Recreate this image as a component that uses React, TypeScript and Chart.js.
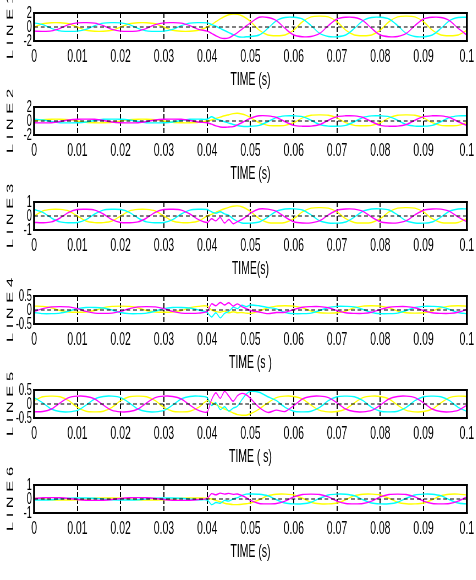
import React, { useEffect, useRef } from "react";
import { Chart, registerables } from "chart.js";
Chart.register(...registerables);

// ---- data (time in seconds, per-unit values) ----
const timeS = [0, 0.002, 0.004, 0.006, 0.008, 0.01, 0.012, 0.014, 0.016, 0.018, 0.02, 0.022, 0.024, 0.026, 0.028, 0.03, 0.032, 0.034, 0.036, 0.038, 0.04, 0.041, 0.042, 0.043, 0.044, 0.045, 0.046, 0.047, 0.048, 0.049, 0.05, 0.052, 0.054, 0.056, 0.058, 0.06, 0.062, 0.064, 0.066, 0.068, 0.07, 0.072, 0.074, 0.076, 0.078, 0.08, 0.082, 0.084, 0.086, 0.088, 0.09, 0.092, 0.094, 0.096, 0.098, 0.1];

const line1Yellow = [0, 0.47, 0.61, 0.61, 0.47, 0, -0.47, -0.61, -0.61, -0.47, 0, 0.47, 0.61, 0.61, 0.47, 0, -0.47, -0.61, -0.61, -0.47, 0, 0.35, 0.75, 1.15, 1.5, 1.75, 1.85, 1.8, 1.6, 1.25, 0.8, -0.45, -1.14, -1.25, -1.14, -0.45, 0.75, 1.44, 1.55, 1.44, 0.75, -0.45, -1.14, -1.25, -1.14, -0.45, 0.75, 1.44, 1.55, 1.44, 0.75, -0.45, -1.14, -1.25, -1.14, -0.45];
const line1Magenta = [-0.59, -0.62, -0.55, -0.19, 0.34, 0.59, 0.62, 0.55, 0.19, -0.34, -0.59, -0.62, -0.55, -0.19, 0.34, 0.59, 0.62, 0.55, 0.19, -0.34, -0.59, -0.9, -1.25, -1.55, -1.65, -1.55, -1.2, -0.8, -0.35, 0.15, 0.6, 1.39, 1.36, 0.92, -0.21, -1.15, -1.39, -1.36, -0.92, 0.21, 1.15, 1.39, 1.36, 0.92, -0.21, -1.15, -1.39, -1.36, -0.92, 0.21, 1.15, 1.39, 1.36, 0.92, -0.21, -1.15];
const line1Cyan = [0.59, 0.34, -0.19, -0.55, -0.62, -0.59, -0.34, 0.19, 0.55, 0.62, 0.59, 0.34, -0.19, -0.55, -0.62, -0.59, -0.34, 0.19, 0.55, 0.62, 0.59, 0.35, 0.1, -0.2, -0.5, -0.8, -1.1, -1.35, -1.45, -1.4, -1.35, -1.15, -0.21, 0.92, 1.36, 1.39, 1.15, 0.21, -0.92, -1.36, -1.39, -1.15, -0.21, 0.92, 1.36, 1.39, 1.15, 0.21, -0.92, -1.36, -1.39, -1.15, -0.21, 0.92, 1.36, 1.39];

const line2Yellow = [0, 0.2, 0.26, 0.26, 0.2, 0, -0.2, -0.26, -0.26, -0.2, 0, 0.2, 0.26, 0.26, 0.2, 0, -0.2, -0.26, -0.26, -0.2, 0, 0.15, 0.35, 0.55, 0.75, 0.9, 1.05, 1.1, 1.0, 0.8, 0.5, -0.24, -0.62, -0.68, -0.62, -0.24, 0.44, 0.82, 0.88, 0.82, 0.44, -0.24, -0.62, -0.68, -0.62, -0.24, 0.44, 0.82, 0.88, 0.82, 0.44, -0.24, -0.62, -0.68, -0.62, -0.24];
const line2Magenta = [-0.26, -0.27, -0.24, -0.08, 0.15, 0.26, 0.27, 0.24, 0.08, -0.15, -0.26, -0.27, -0.24, -0.08, 0.15, 0.26, 0.27, 0.24, 0.08, -0.15, -0.26, -0.45, -0.7, -0.85, -0.9, -0.85, -0.8, -0.55, -0.25, 0.1, 0.4, 0.74, 0.73, 0.5, -0.11, -0.62, -0.74, -0.73, -0.5, 0.11, 0.62, 0.74, 0.73, 0.5, -0.11, -0.62, -0.74, -0.73, -0.5, 0.11, 0.62, 0.74, 0.73, 0.5, -0.11, -0.62];
const line2Cyan = [0.26, 0.15, -0.08, -0.24, -0.27, -0.26, -0.15, 0.08, 0.24, 0.27, 0.26, 0.15, -0.08, -0.24, -0.27, -0.26, -0.15, 0.08, 0.24, 0.27, 0.26, 0.6, 0.3, 0.1, -0.1, -0.3, -0.5, -0.65, -0.75, -0.78, -0.75, -0.62, -0.11, 0.5, 0.73, 0.74, 0.62, 0.11, -0.5, -0.73, -0.74, -0.62, -0.11, 0.5, 0.73, 0.74, 0.62, 0.11, -0.5, -0.73, -0.74, -0.62, -0.11, 0.5, 0.73, 0.74];

const line3Yellow = [0, 0.36, 0.47, 0.47, 0.36, 0, -0.36, -0.47, -0.47, -0.36, 0, 0.36, 0.47, 0.47, 0.36, 0, -0.36, -0.47, -0.47, -0.36, 0, 0.12, 0.26, 0.4, 0.52, 0.62, 0.7, 0.72, 0.66, 0.52, 0.33, -0.19, -0.46, -0.5, -0.46, -0.19, 0.29, 0.56, 0.6, 0.56, 0.29, -0.19, -0.46, -0.5, -0.46, -0.19, 0.29, 0.56, 0.6, 0.56, 0.29, -0.19, -0.46, -0.5, -0.46, -0.19];
const line3Magenta = [-0.46, -0.48, -0.42, -0.14, 0.26, 0.46, 0.48, 0.42, 0.14, -0.26, -0.46, -0.48, -0.42, -0.14, 0.26, 0.46, 0.48, 0.42, 0.14, -0.26, -0.46, -0.2, -0.35, -0.1, -0.5, -0.25, -0.55, -0.4, -0.25, -0.05, 0.2, 0.5, 0.49, 0.33, -0.08, -0.41, -0.5, -0.49, -0.33, 0.08, 0.41, 0.5, 0.49, 0.33, -0.08, -0.41, -0.5, -0.49, -0.33, 0.08, 0.41, 0.5, 0.49, 0.33, -0.08, -0.41];
const line3Cyan = [0.46, 0.26, -0.14, -0.42, -0.48, -0.46, -0.26, 0.14, 0.42, 0.48, 0.46, 0.26, -0.14, -0.42, -0.48, -0.46, -0.26, 0.14, 0.42, 0.48, 0.46, 0.3, 0.2, 0.3, 0.15, 0.05, -0.2, -0.38, -0.5, -0.52, -0.51, -0.43, -0.08, 0.34, 0.5, 0.51, 0.43, 0.08, -0.34, -0.5, -0.51, -0.43, -0.08, 0.34, 0.5, 0.51, 0.43, 0.08, -0.34, -0.5, -0.51, -0.43, -0.08, 0.34, 0.5, 0.51];

const line4Yellow = [0.14, 0.13, 0.08, -0.02, -0.07, -0.08, -0.07, -0.02, 0.08, 0.13, 0.14, 0.13, 0.08, -0.02, -0.07, -0.08, -0.07, -0.02, 0.08, 0.13, 0.14, 0, -0.05, -0.08, -0.04, -0.1, -0.06, -0.1, -0.09, -0.11, -0.12, -0.04, 0.08, 0.14, 0.15, 0.14, 0.08, -0.04, -0.1, -0.11, -0.1, -0.04, 0.08, 0.14, 0.15, 0.14, 0.08, -0.04, -0.1, -0.11, -0.1, -0.04, 0.08, 0.14, 0.15, 0.14];
const line4Magenta = [-0.05, 0.05, 0.11, 0.12, 0.11, 0.05, -0.05, -0.11, -0.12, -0.11, -0.05, 0.05, 0.11, 0.12, 0.11, 0.05, -0.05, -0.11, -0.12, -0.11, -0.05, 0.22, 0.15, 0.27, 0.18, 0.26, 0.14, 0.22, 0.12, 0.05, -0.02, -0.07, -0.13, -0.09, -0.08, 0.02, 0.1, 0.12, 0.12, 0.08, -0.02, -0.1, -0.12, -0.12, -0.08, 0.02, 0.1, 0.12, 0.12, 0.08, -0.02, -0.1, -0.12, -0.12, -0.08, 0.02];
const line4Cyan = [-0.09, -0.13, -0.13, -0.11, -0.04, 0.05, 0.09, 0.09, 0.07, 0, -0.09, -0.13, -0.13, -0.11, -0.04, 0.05, 0.09, 0.09, 0.07, 0, -0.09, -0.25, -0.1, -0.28, -0.12, -0.05, 0.1, 0.05, 0.17, 0.12, 0.18, 0.15, 0.09, 0.04, -0.09, -0.13, -0.13, -0.11, -0.02, 0.09, 0.13, 0.13, 0.11, 0.02, -0.09, -0.13, -0.13, -0.11, -0.02, 0.09, 0.13, 0.13, 0.11, 0.02, -0.09, -0.13];

const line5Yellow = [0.12, 0.26, 0.28, 0.26, 0.12, -0.12, -0.26, -0.28, -0.26, -0.12, 0.12, 0.26, 0.28, 0.26, 0.12, -0.12, -0.26, -0.28, -0.26, -0.12, 0.12, 0.05, -0.02, -0.1, -0.18, -0.25, -0.32, -0.38, -0.4, -0.4, -0.35, -0.18, 0.04, 0.23, 0.28, 0.27, 0.18, -0.04, -0.23, -0.28, -0.27, -0.18, 0.04, 0.23, 0.28, 0.27, 0.18, -0.04, -0.23, -0.28, -0.27, -0.18, 0.04, 0.23, 0.28, 0.27];
const line5Magenta = [-0.28, -0.27, -0.18, 0.04, 0.23, 0.28, 0.27, 0.18, -0.04, -0.23, -0.28, -0.27, -0.18, 0.04, 0.23, 0.28, 0.27, 0.18, -0.04, -0.23, -0.28, 0.15, 0.4, 0.2, 0.45, 0.28, 0.1, 0.3, 0.38, 0.33, 0.2, -0.12, -0.3, -0.22, -0.27, -0.06, 0.18, 0.27, 0.28, 0.23, 0.04, -0.18, -0.27, -0.28, -0.23, -0.04, 0.18, 0.27, 0.28, 0.23, 0.04, -0.18, -0.27, -0.28, -0.23, -0.04];
const line5Cyan = [0.23, 0.04, -0.18, -0.27, -0.28, -0.23, -0.04, 0.18, 0.27, 0.28, 0.23, 0.04, -0.18, -0.27, -0.28, -0.23, -0.04, 0.18, 0.27, 0.28, 0.23, -0.05, 0.05, -0.2, -0.1, -0.25, -0.15, -0.08, 0.15, 0.35, 0.45, 0.42, 0.26, 0.12, -0.12, -0.26, -0.28, -0.26, -0.12, 0.12, 0.26, 0.28, 0.26, 0.12, -0.12, -0.26, -0.28, -0.26, -0.12, 0.12, 0.26, 0.28, 0.26, 0.12, -0.12, -0.26];

const line6Yellow = [0.06, 0.01, -0.05, -0.07, -0.07, -0.06, -0.01, 0.05, 0.07, 0.07, 0.06, 0.01, -0.05, -0.07, -0.07, -0.06, -0.01, 0.05, 0.07, 0.07, 0.06, 0, -0.1, -0.2, -0.3, -0.36, -0.4, -0.4, -0.38, -0.34, -0.29, -0.05, 0.23, 0.34, 0.35, 0.29, 0.05, -0.23, -0.34, -0.35, -0.29, -0.05, 0.23, 0.34, 0.35, 0.29, 0.05, -0.23, -0.34, -0.35, -0.29, -0.05, 0.23, 0.34, 0.35, 0.29];
const line6Magenta = [0.04, 0.09, 0.1, 0.09, 0.04, -0.04, -0.09, -0.1, -0.09, -0.04, 0.04, 0.09, 0.1, 0.09, 0.04, -0.04, -0.09, -0.1, -0.09, -0.04, 0.04, 0.38, 0.3, 0.42, 0.35, 0.4, 0.33, 0.36, 0.25, 0.1, -0.1, -0.32, -0.35, -0.32, -0.15, 0.15, 0.32, 0.35, 0.32, 0.15, -0.15, -0.32, -0.35, -0.32, -0.15, 0.15, 0.32, 0.35, 0.32, 0.15, -0.15, -0.32, -0.35, -0.32, -0.15, 0.15];
const line6Cyan = [-0.07, -0.07, -0.05, 0.01, 0.06, 0.07, 0.07, 0.05, -0.01, -0.06, -0.07, -0.07, -0.05, 0.01, 0.06, 0.07, 0.07, 0.05, -0.01, -0.06, -0.07, -0.4, -0.25, -0.3, -0.1, -0.15, 0, 0.1, 0.25, 0.35, 0.36, 0.34, 0.23, -0.05, -0.29, -0.35, -0.34, -0.23, 0.05, 0.29, 0.35, 0.34, 0.23, -0.05, -0.29, -0.35, -0.34, -0.23, 0.05, 0.29, 0.35, 0.34, 0.23, -0.05, -0.29, -0.35];

const yTitles = ["L I N E 1", "L I N E 2", "L I N E 3", "L I N E 4", "L I N E 5", "L I N E 6"];
const xTitles = ["TIME (s)", "TIME (s)", "TIME(s)", "TIME (s )", "TIME ( s)", "TIME (s)"];
const yLimits = [2, 2, 1, 0.5, 0.5, 1];
const yellowSeries = [line1Yellow, line2Yellow, line3Yellow, line4Yellow, line5Yellow, line6Yellow];
const magentaSeries = [line1Magenta, line2Magenta, line3Magenta, line4Magenta, line5Magenta, line6Magenta];
const cyanSeries = [line1Cyan, line2Cyan, line3Cyan, line4Cyan, line5Cyan, line6Cyan];

// ---- layout ----
const SX = 0.55; // horizontal squeeze of the whole figure
const CW = 866;
const PAD_TOP = 24;
const CH = PAD_TOP + 28 + 52;
const PLOT_RIGHT = 849;
const PLOT_TOPS = [13, 107, 202, 296, 390, 485];
const FONT = "'Liberation Sans', Arial, sans-serif";

const boxPlugin = {
  id: "boxAndZero",
  afterDatasetsDraw(chart: any) {
    const { ctx, chartArea } = chart;
    const { left, right, top, bottom } = chartArea;
    const y0 = chart.scales.y.getPixelForValue(0);
    ctx.save();
    ctx.beginPath();
    ctx.rect(left, top, right - left, bottom - top);
    ctx.clip();
    ctx.strokeStyle = "#000";
    ctx.lineWidth = 1.2;
    ctx.setLineDash([7, 5]);
    ctx.beginPath();
    ctx.moveTo(left, y0);
    ctx.lineTo(right, y0);
    ctx.stroke();
    ctx.restore();
  },
  afterDraw(chart: any) {
    const { ctx, chartArea } = chart;
    const { left, right, top, bottom } = chartArea;
    ctx.save();
    ctx.strokeStyle = "#000";
    ctx.setLineDash([]);
    ctx.lineWidth = 2;
    ctx.beginPath();
    ctx.moveTo(left - 1.8, top);
    ctx.lineTo(right + 1.8, top);
    ctx.moveTo(left - 1.8, bottom);
    ctx.lineTo(right + 1.8, bottom);
    ctx.stroke();
    ctx.lineWidth = 3.6;
    ctx.beginPath();
    ctx.moveTo(left, top - 1);
    ctx.lineTo(left, bottom + 1);
    ctx.moveTo(right, top - 1);
    ctx.lineTo(right, bottom + 1);
    ctx.stroke();
    ctx.restore();
  },
};

function Panel({ idx }: { idx: number }) {
  const ref = useRef<HTMLCanvasElement>(null);
  useEffect(() => {
    const lim = yLimits[idx];
    const mk = (vals: number[], color: string) => ({
      data: timeS.map((t, i) => ({ x: t, y: vals[i] })),
      borderColor: color,
      backgroundColor: color,
      borderWidth: 1.4,
      pointRadius: 0,
      tension: 0.3,
      fill: false,
    });
    const chart = new Chart(ref.current as HTMLCanvasElement, {
      type: "line",
      data: {
        datasets: [
          mk(magentaSeries[idx], "#ff00ff"),
          mk(cyanSeries[idx], "#00ffff"),
          mk(yellowSeries[idx], "#ffff00"),
        ],
      },
      options: {
        animation: false,
        responsive: false,
        devicePixelRatio: 1,
        layout: { padding: { top: PAD_TOP, right: CW - PLOT_RIGHT, left: 0, bottom: 0 } },
        plugins: { legend: { display: false }, tooltip: { enabled: false } },
        scales: {
          x: {
            type: "linear",
            min: 0,
            max: 0.1,
            afterFit: (s: any) => {
              s.height = 52;
            },
            ticks: {
              stepSize: 0.01,
              autoSkip: false,
              maxRotation: 0,
              minRotation: 0,
              padding: 4,
              color: "#000",
              font: { family: FONT, size: 19 },
              callback: (v: any) => String(Math.round(Number(v) * 100) / 100),
            },
            grid: { color: "#000", lineWidth: 2, drawTicks: false },
            border: { display: false, dash: [5, 2] },
            title: {
              display: true,
              text: xTitles[idx],
              color: "#000",
              font: { family: FONT, size: 19 },
              padding: { top: 0, bottom: 1.5 },
            },
          },
          y: {
            min: -lim,
            max: lim,
            afterFit: (s: any) => {
              s.width = 62;
            },
            ticks: {
              stepSize: lim,
              autoSkip: false,
              padding: 4,
              color: "#000",
              font: { family: FONT, size: 17 },
            },
            grid: { display: false, drawTicks: false },
            border: { display: false },
            title: {
              display: true,
              text: yTitles[idx],
              color: "#000",
              font: { family: FONT, size: 16.5 },
              padding: { top: 10, bottom: 0 },
            },
          },
        },
      } as any,
      plugins: [boxPlugin],
    });
    return () => chart.destroy();
  }, [idx]);
  return <canvas ref={ref} width={CW} height={CH} style={{ display: "block" }} />;
}

export default function App() {
  return (
    <div
      style={{
        position: "fixed",
        left: 0,
        top: 0,
        width: 476,
        height: 580,
        overflow: "hidden",
        background: "#fff",
      }}
    >
      {PLOT_TOPS.map((t, i) => (
        <div
          key={i}
          style={{
            position: "absolute",
            left: 0,
            top: t - PAD_TOP,
            width: CW,
            height: CH,
            transform: `scaleX(${SX})`,
            transformOrigin: "0 0",
          }}
        >
          <Panel idx={i} />
        </div>
      ))}
    </div>
  );
}
